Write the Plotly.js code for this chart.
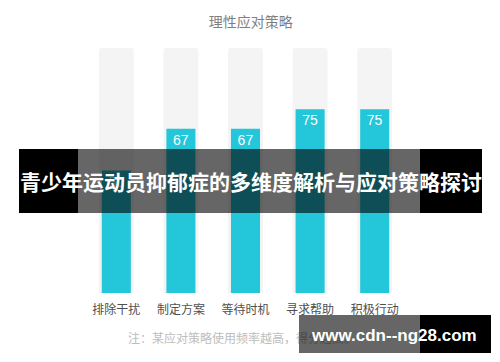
<!DOCTYPE html>
<html><head><meta charset="utf-8">
<script src="https://cdn.plot.ly/plotly-3.0.1.min.js"></script>
<style>html,body{margin:0;padding:0;background:#fff}#chart{width:500px;height:362px}</style>
</head><body><div id="chart"></div>
<script>
const categories = ['排除干扰', '制定方案', '等待时机', '寻求帮助', '积极行动'];
const values = [50, 67, 67, 75, 75];
const fullScale = [100, 100, 100, 100, 100];
const chartTitle = '理性应对策略';
const noteText = '注：某应对策略使用频率越高，得分越高。';
const bannerText = '青少年运动员抑郁症的多维度解析与应对策略探讨';
const watermarkText = 'www.cdn--ng28.com';

const W = 500, H = 362, M = {l: 84, r: 93, t: 48, b: 69};
const pw = W - M.l - M.r, ph = H - M.t - M.b;
const px = x => (x - M.l) / pw;
const py = y => (H - M.b - y) / ph;
const CJK = '"Noto Sans CJK SC", "Noto Sans", sans-serif';

function rect(x0, x1, y0, y1, color) {
  return {type: 'rect', xref: 'paper', yref: 'paper', layer: 'above',
    x0: px(x0), x1: px(x1), y0: py(y1), y1: py(y0),
    fillcolor: color, line: {width: 0}};
}
function box(x0, x1, y0, y1, color) {
  return {xref: 'paper', yref: 'paper', x: px(x0), y: py(y0), xanchor: 'left', yanchor: 'top',
    width: x1 - x0, height: y1 - y0, text: ' ', showarrow: false, bgcolor: color,
    borderpad: 0, borderwidth: 0};
}

const traces = [
  {type: 'bar', x: categories, y: fullScale, width: 0.54, hoverinfo: 'skip',
   marker: {color: '#f4f4f4', cornerradius: 3}},
  {type: 'bar', x: categories, y: values, width: 0.45, hoverinfo: 'skip',
   text: values.map(String), textposition: 'inside', insidetextanchor: 'end',
   constraintext: 'none',
   textfont: {color: '#ffffff', size: 14, family: 'Liberation Sans, Arial, sans-serif'},
   marker: {color: '#24c6d9', cornerradius: 3}}
];

const layout = {
  width: W, height: H, margin: M, barmode: 'overlay', showlegend: false,
  paper_bgcolor: '#ffffff', plot_bgcolor: '#ffffff',
  title: {text: chartTitle, x: px(246), xanchor: 'center', y: 1 - 22 / H, yanchor: 'middle',
    font: {family: CJK, size: 14, color: '#7f7f7f'}},
  xaxis: {type: 'category', range: [-0.5, 4.5], showgrid: false, zeroline: false, showline: false,
    ticks: '', ticklabelstandoff: 8,
    tickfont: {family: CJK, size: 12, color: '#4f4f4f'}, fixedrange: true},
  yaxis: {range: [0, 100], visible: false, fixedrange: true},
  shapes: [
    rect(19, 78, 149, 213, '#000000'),
    rect(78, 420, 149, 213, 'rgba(0,0,0,0.6)'),
    rect(420, 482, 149, 213, '#000000')
  ],
  annotations: [
    {xref: 'paper', yref: 'paper', x: px(126), y: py(337), xanchor: 'left', yanchor: 'middle',
     text: noteText, showarrow: false, font: {family: CJK, size: 12, color: '#bdbdbd'}},
    {xref: 'paper', yref: 'paper', x: px(250.5), y: py(181), xanchor: 'center', yanchor: 'middle',
     text: '<b>' + bannerText + '</b>', showarrow: false, font: {family: CJK, size: 21, color: '#ffffff'}},
    box(299, 420, 315, 353, 'rgba(0,0,0,0.6)'),
    box(420, 491, 315, 353, '#000000'),
    {xref: 'paper', yref: 'paper', x: px(394), y: py(335), xanchor: 'center', yanchor: 'middle',
     text: '<b>' + watermarkText + '</b>', showarrow: false,
     font: {family: 'Liberation Sans, Arial, sans-serif', size: 17, color: '#ffffff'}}
  ]
};

Plotly.newPlot('chart', traces, layout, {displayModeBar: false, staticPlot: true});
</script></body></html>
